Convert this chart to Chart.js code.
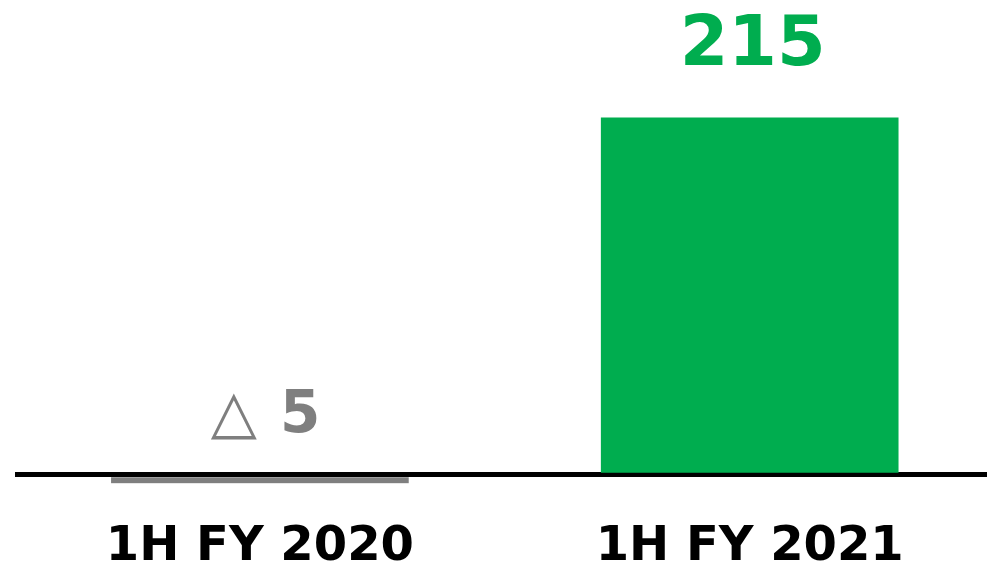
<!DOCTYPE html>
<html>
<head>
<meta charset="utf-8">
<script src="https://cdn.jsdelivr.net/npm/chart.js@4/dist/chart.umd.min.js"></script>
<style>
  html, body { margin: 0; padding: 0; background: #fff; overflow: hidden; }
  #wrap { width: 1000px; height: 568px; position: relative; }
</style>
</head>
<body>
<div id="wrap"><canvas id="myChart"></canvas></div>
<script>
// Data
const categories = ["1H FY 2020", "1H FY 2021"];
const values = [-5, 215];
const valueLabels = ["△", "215"];
const barColors = ["#7f7f7f", "#00ad4f"];
const labelColors = ["#7f7f7f", "#00ad4f"];

const chartCanvas = document.getElementById("myChart");
const FONT = "'DejaVu Sans', Verdana, sans-serif";

// Value labels above each bar
const valueLabelPlugin = {
  id: "valueLabels",
  afterDraw(chart) {
    const ctx = chart.ctx;
    const meta = chart.getDatasetMeta(0);
    const zeroY = chart.scales.y.getPixelForValue(0);
    ctx.save();
    ctx.textBaseline = "alphabetic";
    meta.data.forEach((bar, i) => {
      const v = values[i];
      ctx.fillStyle = labelColors[i];
      if (v < 0) {
        // negative value: "△ n" sitting above the zero line
        const y = zeroY - 43;
        ctx.font = "normal 60px " + FONT;
        ctx.textAlign = "right";
        ctx.fillText(valueLabels[i], bar.x - 3, y);
        ctx.font = "bold 58px " + FONT;
        ctx.textAlign = "left";
        ctx.fillText(String(Math.abs(v)), bar.x + 20, y);
      } else {
        ctx.font = "bold 70px " + FONT;
        ctx.textAlign = "center";
        ctx.fillText(valueLabels[i], bar.x + 3, bar.y - 53);
      }
    });
    ctx.restore();
  }
};

window.myChart = new Chart(chartCanvas, {
  type: "bar",
  data: {
    labels: categories,
    datasets: [
      {
        data: values,
        backgroundColor: barColors,
        borderWidth: 0,
        barThickness: 297
      }
    ]
  },
  options: {
    responsive: true,
    maintainAspectRatio: false,
    animation: false,
    layout: { padding: { left: 15, right: 5.4, top: 0, bottom: 0 } },
    plugins: {
      legend: { display: false },
      tooltip: { enabled: false }
    },
    scales: {
      x: {
        grid: { display: false, drawTicks: false },
        border: { display: false },
        ticks: {
          color: "#000",
          padding: 40,
          font: { family: FONT, size: 48, weight: "bold", lineHeight: 1 }
        },
        afterFit(scale) { scale.height = 84.7; }
      },
      y: {
        min: -5,
        max: 286,
        z: 1,
        border: { display: false },
        ticks: { display: false },
        afterBuildTicks(scale) { scale.ticks = [{ value: 0 }]; },
        grid: {
          drawTicks: false,
          color: "#000",
          lineWidth: 5
        }
      }
    }
  },
  plugins: [valueLabelPlugin]
});
</script>
</body>
</html>
